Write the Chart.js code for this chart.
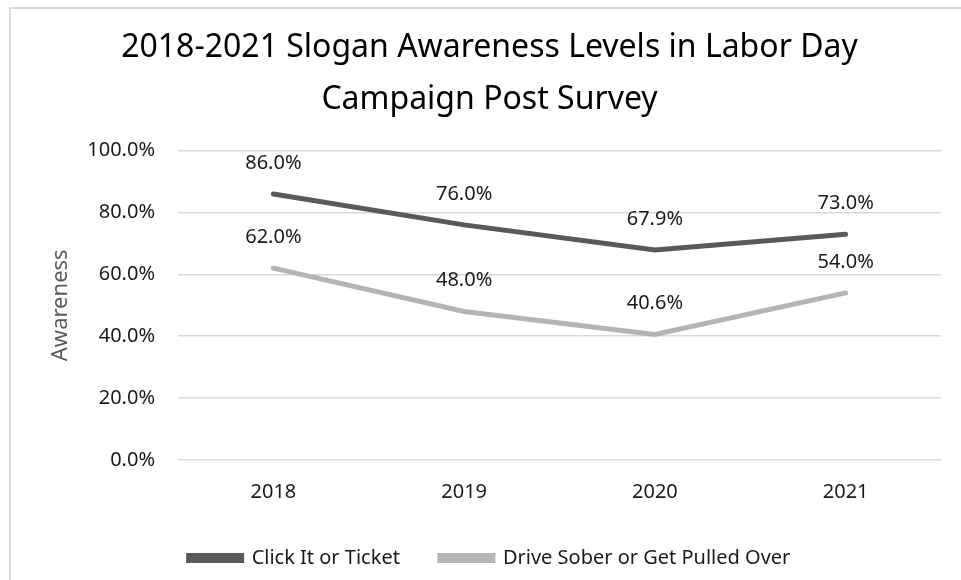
<!DOCTYPE html>
<html>
<head>
<meta charset="utf-8">
<script src="https://cdn.jsdelivr.net/npm/chart.js@4.4.1/dist/chart.umd.min.js"></script>
<style>
  html, body { margin: 0; padding: 0; background: #fff; overflow: hidden; }
  #wrap { position: relative; width: 961px; height: 580px; }
</style>
</head>
<body>
<div id="wrap"><canvas id="chart"></canvas></div>
<script>
// data
const years = ['2018', '2019', '2020', '2021'];
const clickItOrTicket = [86.0, 76.0, 67.9, 73.0];
const driveSober = [62.0, 48.0, 40.6, 54.0];
const yTicks = [0, 20, 40, 60, 80, 100];

const FONT = "'Noto Sans', 'Open Sans', sans-serif";

// thin grey frame round the chart, like the Excel chart border
const framePlugin = {
  id: 'frame',
  beforeDraw(chart) {
    const ctx = chart.ctx;
    ctx.save();
    ctx.fillStyle = '#fff';
    ctx.fillRect(0, 0, chart.width, chart.height);
    ctx.strokeStyle = '#d9d9d9';
    ctx.lineWidth = 2;
    ctx.strokeRect(10, 8, chart.width + 20, chart.height + 20);
    ctx.restore();
  }
};

// value labels above each point
const valueLabels = {
  id: 'valueLabels',
  afterDatasetsDraw(chart) {
    const ctx = chart.ctx;
    ctx.save();
    ctx.font = "20px " + FONT;
    ctx.fillStyle = '#1a1a1a';
    ctx.textAlign = 'center';
    ctx.textBaseline = 'middle';
    chart.data.datasets.forEach((ds, i) => {
      chart.getDatasetMeta(i).data.forEach((pt, j) => {
        ctx.fillText(ds.data[j].toFixed(1) + '%', pt.x, pt.y - 31);
      });
    });
    ctx.restore();
  }
};

new Chart(document.getElementById('chart'), {
  type: 'line',
  data: {
    labels: years,
    datasets: [
      {
        label: 'Click It or Ticket',
        data: clickItOrTicket,
        borderColor: '#595959',
        backgroundColor: '#595959',
        borderWidth: 5,
        borderCapStyle: 'round',
        pointRadius: 0,
        tension: 0
      },
      {
        label: 'Drive Sober or Get Pulled Over',
        data: driveSober,
        borderColor: '#b4b4b4',
        backgroundColor: '#b4b4b4',
        borderWidth: 5,
        borderCapStyle: 'round',
        pointRadius: 0,
        tension: 0
      }
    ]
  },
  options: {
    responsive: true,
    maintainAspectRatio: false,
    animation: false,
    layout: { padding: { left: 38, right: 20, top: 0, bottom: 2 } },
    plugins: {
      title: {
        display: true,
        text: ['2018-2021 Slogan Awareness Levels in Labor Day', 'Campaign Post Survey'],
        color: '#000',
        font: { family: FONT, size: 32, weight: 'normal', lineHeight: 1.65 },
        padding: { top: 21, bottom: 24 }
      },
      legend: {
        position: 'bottom',
        labels: {
          color: '#1a1a1a',
          font: { family: FONT, size: 20 },
          boxWidth: 53,
          boxHeight: 5,
          padding: 40
        }
      },
      tooltip: { enabled: false }
    },
    scales: {
      x: {
        offset: true,
        grid: { display: false, drawTicks: false },
        border: { display: false },
        ticks: { color: '#1a1a1a', font: { family: FONT, size: 20 }, padding: 20 },
        afterFit(scale) { scale.height = 48; }
      },
      y: {
        min: 0,
        max: 100,
        afterBuildTicks(scale) { scale.ticks = yTicks.map(v => ({ value: v })); },
        grid: { color: '#d9d9d9', lineWidth: 1.5, drawTicks: false },
        border: { display: false },
        ticks: {
          color: '#1a1a1a',
          font: { family: FONT, size: 20 },
          padding: 23,
          callback: v => v.toFixed(1) + '%'
        },
        title: {
          display: true,
          text: 'Awareness',
          color: '#595959',
          font: { family: FONT, size: 22 },
          padding: { top: 10, bottom: 0 }
        },
        afterFit(scale) { scale.width = 140; }
      }
    }
  },
  plugins: [framePlugin, valueLabels]
});
</script>
</body>
</html>
